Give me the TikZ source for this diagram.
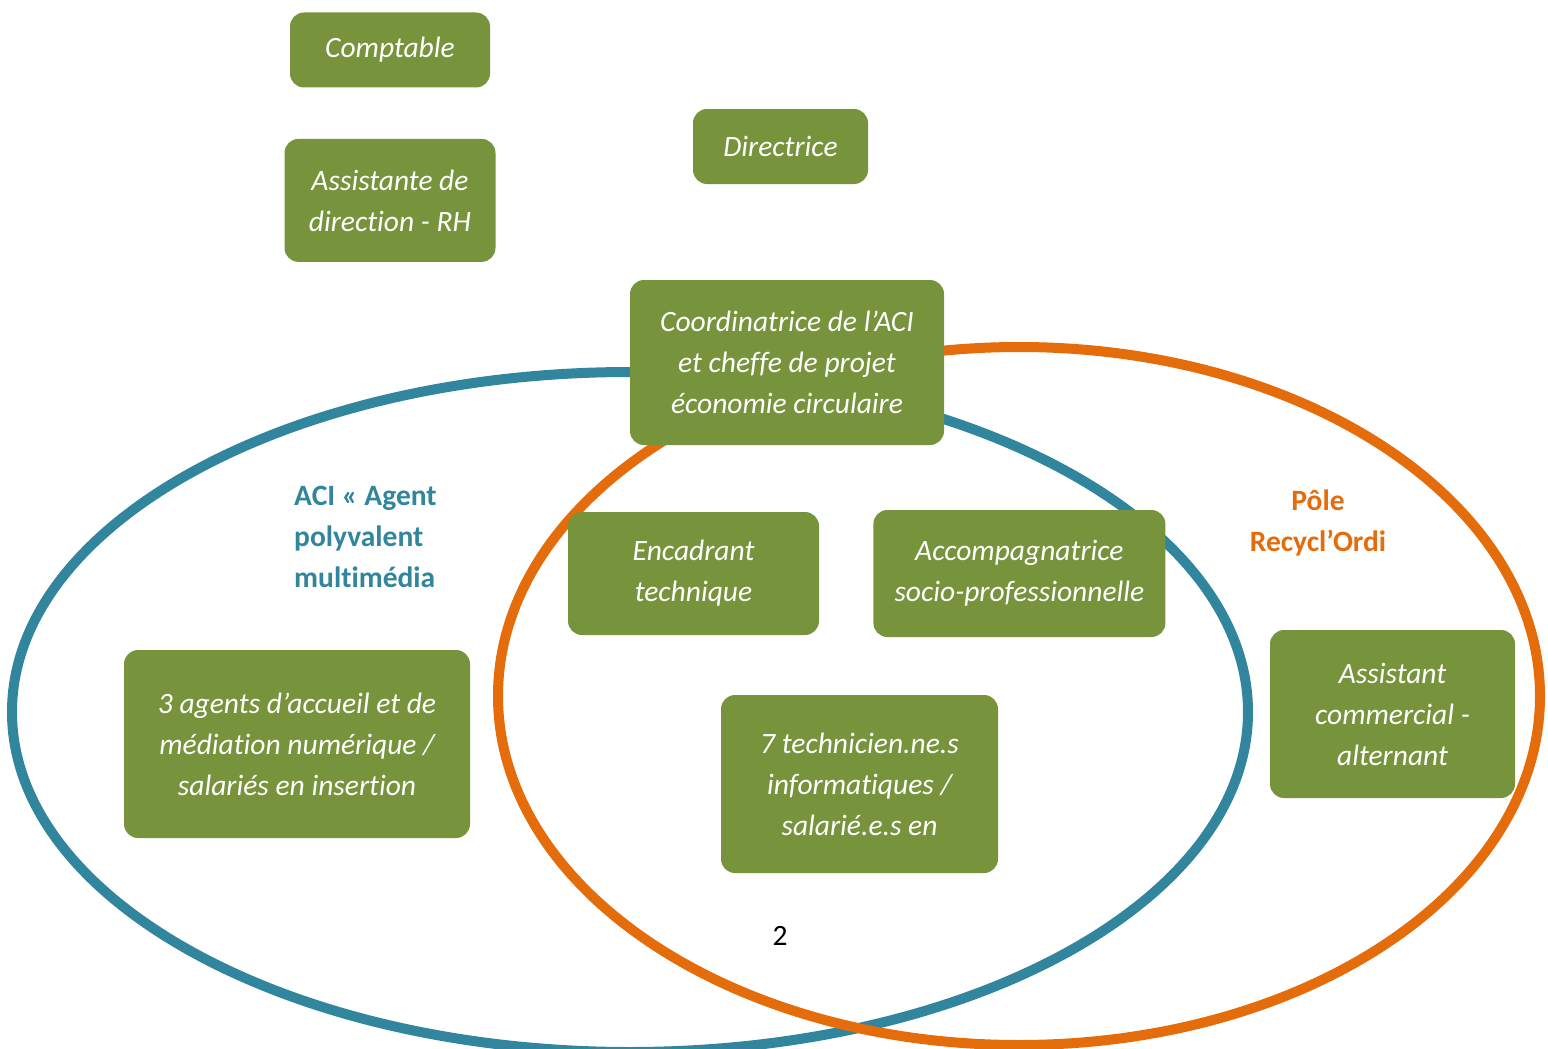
\documentclass[tikz,border=0pt]{standalone}
\usepackage{fontspec}
\setmainfont{Carlito}[Ligatures={NoCommon,NoContextual}]
\usetikzlibrary{positioning}
\definecolor{vertposte}{HTML}{77933C}
\definecolor{bleuaci}{HTML}{31859C}
\definecolor{orangepole}{HTML}{E46C0A}
\tikzstyle{poste} = [fill=vertposte, rounded corners=14pt, text=white, align=center, inner sep=0pt, font=\fontsize{29.5}{41}\selectfont\itshape]
\tikzstyle{pole} = [font=\fontsize{29.5}{41}\selectfont\bfseries, inner sep=0pt]
\tikzstyle{cercle} = [line width=10pt]

\begin{document}
\begin{tikzpicture}[x=1pt, y=-1pt]
    \useasboundingbox (0,0) rectangle (1548,1049);

    % Ellipses
    \begin{scope}
        \clip (0,0) rectangle (1548,1049);
        \draw[cercle, bleuaci] (630,712) ellipse [x radius=618pt, y radius=340pt];
        \draw[cercle, orangepole] (1019,696) ellipse [x radius=521pt, y radius=349pt];
    \end{scope}

    % Direction
    \node[poste, minimum width=200pt, minimum height=75pt] (comptable) at (390,50) {Comptable};
    \node[poste, minimum width=211pt, minimum height=123pt, below=51pt of comptable] (assistante) {Assistante de\\direction - RH};
    \node[poste, minimum width=175pt, minimum height=75pt] (directrice) at (780.5,146.5) {Directrice};
    \node[poste, minimum width=314pt, minimum height=165pt] (coordinatrice) at (787,362.5) {Coordinatrice de l’ACI\\et cheffe de projet\\économie circulaire};

    % Postes partages
    \node[poste, minimum width=251pt, minimum height=123pt] (encadrant) at (693.5,573.5) {Encadrant\\technique};
    \node[poste, minimum width=292pt, minimum height=127pt, right=54pt of encadrant] (accompagnatrice) {Accompagnatrice\\socio-professionnelle};
    \node[poste, minimum width=277pt, minimum height=178pt] (techniciens) at (859.5,784) {7 technicien.ne.s\\informatiques /\\salarié.e.s en};

    % ACI
    \node[poste, minimum width=346pt, minimum height=188pt] (agents) at (297,744) {3 agents d’accueil et de\\médiation numérique /\\salariés en insertion};
    \node[pole, text=bleuaci, align=left, anchor=north west] (aci) at (294,486) {ACI « Agent\\polyvalent\\multimédia};

    % Pole
    \node[poste, minimum width=245pt, minimum height=168pt] (assistant) at (1392.5,714) {Assistant\\commercial -\\alternant};
    \node[pole, text=orangepole, align=center, anchor=north] (recyclordi) at (1318,490) {Pôle\\Recycl’Ordi};

    \node[font=\fontsize{29.5}{41}\selectfont] (page) at (780,936) {2};
\end{tikzpicture}
\end{document}
